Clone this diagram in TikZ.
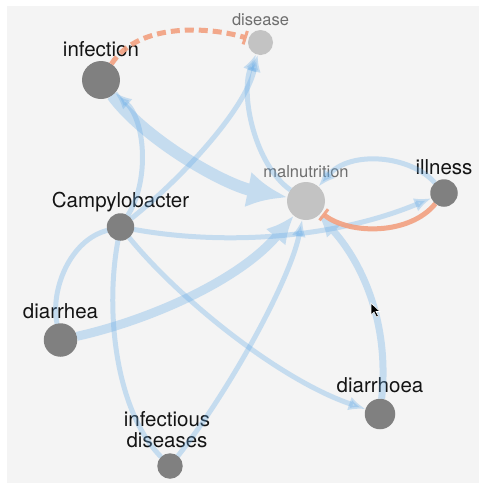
\documentclass[tikz,border=0pt]{standalone}
\usepackage{fontspec}
\setmainfont{TeX Gyre Heros}
\usetikzlibrary{arrows.meta,positioning}
\definecolor{paper}{HTML}{F4F4F4}
\definecolor{nodedark}{HTML}{808080}
\definecolor{nodelight}{HTML}{C3C3C3}
\definecolor{labdark}{HTML}{141414}
\definecolor{labgray}{HTML}{6E6E6E}
\definecolor{linkblue}{RGB}{100,170,230}
\definecolor{inhibit}{RGB}{242,160,128}
\begin{document}
\begin{tikzpicture}[x=1pt, y=-1pt,
          term/.style = {circle, fill=nodedark, inner sep=0pt, outer sep=0pt, minimum size=#1},
          focus/.style = {term=#1, fill=nodelight},
          tag/.style = {inner sep=0pt, text depth=0pt, text=labdark, align=center, font=\fontsize{20.5}{21}\selectfont},
          tagfaint/.style = {tag, text=labgray, font=\fontsize{16.5}{17}\selectfont},
          faded/.style = {transparency group, opacity=0.32},
          link/.style = {draw=linkblue, line width=5pt, -{Latex[length=17pt, width=14pt]}},
          plain/.style = {draw=linkblue, line width=5pt},
          block/.style = {draw=inhibit, opacity=0.9, line width=5pt, -{Bar[width=14pt, line width=3pt]}, shorten >=2pt}]
          \useasboundingbox (0,0) rectangle (479,483);
          \fill[white] (0,0) rectangle (479,483);
          \fill[paper] (7,6) rectangle (479,483);
          % Knuder: cirkel med navn, tekst ovenover
          \node[term=38] (infection) at (101,80) {};
          \node[focus=25] (disease) at (260.5,42.5) {};
          \node[focus=38] (malnutrition) at (306,201) {};
          \node[term=27.5] (illness) at (444,193) {};
          \node[term=27.5] (campy) at (120.5,227) {};
          \node[term=33.5] (diarrhea) at (60.5,340) {};
          \node[term=30.5] (diarrhoea) at (380,414) {};
          \node[term=25.5] (infdis) at (170,466) {};
          \node[tag, above=4pt of infection] (infection-t) {infection};
          \node[tagfaint, above=4pt of disease] (disease-t) {disease};
          \node[tagfaint, above=4pt of malnutrition] (malnutrition-t) {malnutrition};
          \node[tag, above=5pt of illness] (illness-t) {illness};
          \node[tag, above=6pt of campy] (campy-t) {Campylobacter};
          \node[tag, above=5pt of diarrhea] (diarrhea-t) {diarrhea};
          \node[tag, above=6pt of diarrhoea] (diarrhoea-t) {diarrhoea};
          \node[tag, above=6pt of infdis, xshift=-3pt] (infdis-t) {infectious\\diseases};
          % Blå kanter: tykkelse efter vægt
          \begin{scope}[faded]
            \draw[link, line width=12pt, -{Latex[length=40pt, width=36pt]}] (infection) .. controls (145,140) and (225,185) .. (malnutrition);
          \end{scope}
          \begin{scope}[faded]
            \draw[link, line width=9pt, -{Latex[length=28pt, width=26pt]}] (diarrhea) .. controls (150,320) and (240,280) .. (malnutrition);
          \end{scope}
          \begin{scope}[faded]
            \draw[link, line width=7pt, -{Latex[length=22pt, width=19pt]}] (diarrhoea) .. controls (390,320) and (360,260) .. (malnutrition);
          \end{scope}
          \foreach \from/\ca/\cb/\to in {campy/{150,180}/{145,120}/infection,
                                         campy/{180,180}/{245,110}/disease,
                                         malnutrition/{255,165}/{240,95}/disease,
                                         illness/{410,155}/{350,150}/malnutrition,
                                         campy/{220,245}/{330,240}/illness,
                                         infdis/{230,390}/{290,280}/malnutrition,
                                         campy/{180,300}/{280,380}/diarrhoea}
            \draw[link, faded] (\from) .. controls (\ca) and (\cb) .. (\to);
          \begin{scope}[faded]
            \draw[plain] (campy) .. controls (70,240) and (50,290) .. (diarrhea);
          \end{scope}
          \begin{scope}[faded]
            \draw[plain] (campy) .. controls (105,310) and (115,410) .. (infdis);
          \end{scope}
          % Orange kanter: hæmning
          \draw[block] (illness) .. controls (410,235) and (350,235) .. (malnutrition);
          \draw[block, dash pattern=on 9pt off 5pt] (infection) .. controls (140,20) and (215,28) .. (disease);
          % musemarkør
          \fill[black, draw=white, line width=0.6pt] (371,303) -- ++(0,12) -- ++(3,-3) -- ++(2.5,5) -- ++(2,-1) -- ++(-2.5,-4.5) -- ++(4,0) -- cycle;
        \end{tikzpicture}
\end{document}
